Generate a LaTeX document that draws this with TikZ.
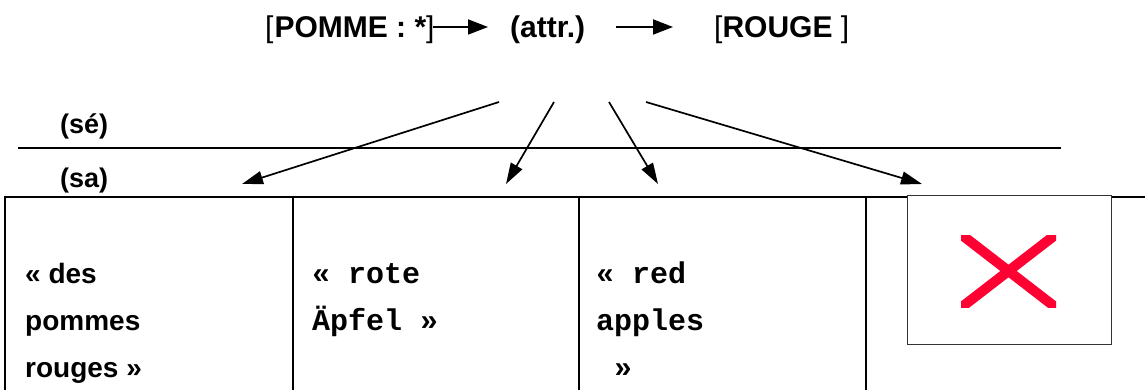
\documentclass[tikz,border=0pt]{standalone}
\usepackage{fontspec}
\setmainfont{Liberation Sans}
\newfontfamily\monof{Liberation Mono}
\usetikzlibrary{arrows.meta,calc}
\begin{document}
\begin{tikzpicture}[x=1pt,y=-1pt,
  toptext/.style={font=\bfseries\fontsize{30}{36}\selectfont, inner sep=0pt, anchor=base west},
  lbl/.style={font=\bfseries\fontsize{27}{32}\selectfont, inner sep=0pt, anchor=base west},
  cellsans/.style={font=\bfseries\fontsize{28}{47}\selectfont, inner sep=0pt, anchor=base west, align=left},
  cellmono/.style={font=\monof\bfseries\fontsize{30}{47}\selectfont, inner sep=0pt, anchor=base west, align=left},
  toparrow/.style={line width=1.8pt, -{Triangle[length=20pt,width=15pt]}},
  diagarrow/.style={line width=1.7pt, -{Triangle[length=21pt,width=13pt]}},
  rule/.style={line width=2.8pt},
  xbox/.style={draw=black!80, line width=1.4pt, fill=white},
]
\useasboundingbox (0,0) rectangle (1145,390);
\definecolor{xred}{RGB}{255,0,51}

% top line
\node[toptext] (pomme) at (265,38) {{\mdseries[}\kern1pt POMME : *\kern0pt{\mdseries]}};
\node[toptext] (attr) at (510,38) {(attr.)};
\node[toptext] (rouge) at (714,38) {{\mdseries[}ROUGE {\mdseries]}};
\draw[toparrow] ($(pomme.base east)+(-2,-11)$) -- ($(attr.base west)+(-22,-11)$);
\draw[toparrow] ($(attr.base east)+(31,-11)$) -- ($(rouge.base west)+(-41,-11)$);

% diagonal arrows
\coordinate (s1) at (499,102); \coordinate (t1) at (242,184);
\coordinate (s2) at (554,102); \coordinate (t2) at (506,184);
\coordinate (s3) at (609,102); \coordinate (t3) at (658,184);
\coordinate (s4) at (646,102); \coordinate (t4) at (922,184);
\draw[diagarrow] (s1) -- (t1);
\draw[diagarrow] (s2) -- (t2);
\draw[diagarrow] (s3) -- (t3);
\draw[diagarrow] (s4) -- (t4);

% levels
\node[lbl] (se) at (60,134) {(sé)};
\node[lbl] (sa) at (60,187) {(sa)};
\coordinate (l1) at (18,148); \coordinate (l2) at (1061,148);
\draw[rule] (l1) -- (l2);

% table
\coordinate (tl) at (5,197); \coordinate (tr) at (1145,197);
\draw[rule] (tl) -- (tr);
\foreach \xx in {5,293,579,866} {\draw[rule] (\xx,195.6) -- (\xx,390);}

\node[cellsans] (c1) at (25,377) {« des\\pommes\\rouges »};
\node[cellmono] (c2) at (312,330) {« rote\\Äpfel »};
\node[cellmono] (c3) at (596,377) {« red\\apples\\\ »};

% crossed box
\node[xbox, minimum width=204pt, minimum height=149pt, anchor=north west, inner sep=0pt] (xb) at (907,195) {};
\begin{scope}
\clip (961,235) rectangle (1056,307);
\draw[xred, line width=10pt, line cap=round] (958,232) -- (1059,310);
\draw[xred, line width=10pt, line cap=round] (958,310) -- (1059,232);
\end{scope}
\end{tikzpicture}
\end{document}
